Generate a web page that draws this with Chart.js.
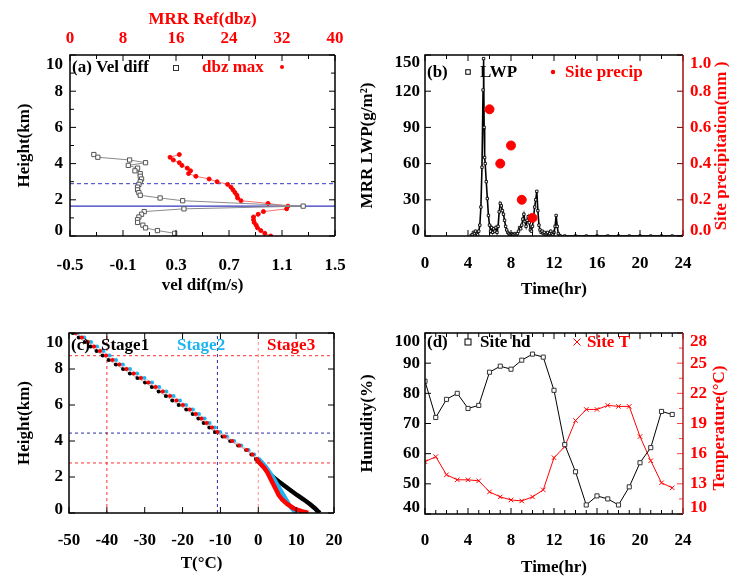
<!DOCTYPE html>
<html lang="en">
<head>
<meta charset="UTF-8">
<title>MRR panels</title>
<script src="https://cdn.jsdelivr.net/npm/chart.js"></script>
<style>
  html, body { margin: 0; padding: 0; background: #fff; overflow: hidden; }
  #wrap { position: relative; width: 729px; height: 578px; overflow: hidden; background: #fff; }
  canvas { position: absolute; }
</style>
</head>
<body>
<div id="wrap">
  <canvas id="panelA" width="370" height="300" style="left:0px;top:0px"></canvas>
  <canvas id="panelB" width="395" height="300" style="left:340px;top:0px"></canvas>
  <canvas id="panelC" width="370" height="278" style="left:0px;top:300px"></canvas>
  <canvas id="panelD" width="395" height="278" style="left:340px;top:300px"></canvas>
</div>
<script>
// ---- (a) MRR profiles ----
const velHeight = [4.5, 4.35, 4.2, 4.05, 3.9, 3.75, 3.6, 3.45, 3.3, 3.15, 3.0, 2.85, 2.7, 2.55, 2.4,
                   2.25, 2.1, 1.95, 1.65, 1.5, 1.35, 1.2, 1.05, 0.9, 0.75, 0.6, 0.45, 0.3, 0.15];
const velDiff = [-0.32, -0.29, -0.05, 0.07, -0.06, 0.01, -0.01, 0.03, 0.03, 0.04, 0.03, 0.02, 0.01, 0.01, 0.02,
                 0.03, 0.18, 0.35, 1.26, 0.36, 0.06, 0.04, 0.02, 0.01, 0.01, 0.05, 0.07, 0.16, 0.29];
const dbzHeight = [4.5, 4.35, 4.2, 4.05, 3.9, 3.75, 3.6, 3.45, 3.3, 3.15, 3.0, 2.85, 2.7, 2.55, 2.4, 2.25,
                   2.1, 1.95, 1.8, 1.65, 1.5, 1.35, 1.2, 1.05, 0.9, 0.75, 0.6, 0.45, 0.3, 0.15, 0.0];
const dbzMax = [16.5, 15.1, 15.6, 16.5, 16.9, 17.7, 18.2, 17.9, 19.0, 21.0, 22.2, 23.8, 24.3, 24.6, 24.9, 25.2,
                25.3, 25.8, 29.9, 32.9, 32.7, 29.2, 28.4, 27.7, 27.7, 27.8, 28.1, 28.3, 28.8, 29.4, 30.3];
const velRange = [-0.5, 1.5];
const dbzRange = [0, 40];
const meltTop = 2.89;     // dashed blue
const brightBand = 1.65;  // solid blue

// ---- (b) LWP and site precipitation ----
const lwpTime = [4.3, 4.4, 4.5, 4.6, 4.7, 4.8, 4.9, 5.0, 5.1, 5.2,
                 5.3, 5.4, 5.45, 5.5, 5.55, 5.6, 5.7, 5.8, 5.9, 6.0,
                 6.1, 6.2, 6.3, 6.4, 6.5, 6.6, 6.7, 6.8, 6.9, 7.0,
                 7.1, 7.2, 7.3, 7.4, 7.5, 7.6, 7.7, 7.8, 7.9, 8.0,
                 8.1, 8.2, 8.3, 8.4, 8.5, 8.6, 8.7, 8.8, 8.9, 9.0,
                 9.1, 9.2, 9.3, 9.4, 9.5, 9.6, 9.7, 9.8, 9.9, 10.0,
                 10.1, 10.2, 10.3, 10.4, 10.5, 10.6, 10.7, 10.8, 10.9, 11.0,
                 11.1, 11.2, 11.3, 11.4, 11.5, 11.6, 11.7, 11.8, 11.9, 12.0,
                 12.1, 12.2, 12.3, 12.4, 12.5, 12.6, 13, 14, 15, 16,
                 17, 18, 19, 20, 21, 22, 23, 24];
const lwpValue = [0.5, 1, 3, 2, 4, 2, 1, 4, 9, 24,
                  57, 121, 147, 90, 65, 60, 45, 31, 17, 9,
                  4, 7, 3, 6, 4, 7, 3, 8, 20, 27,
                  25, 21, 18, 13, 8, 5, 3, 2, 1, 1,
                  2, 1, 1, 2, 1, 2, 4, 7, 6, 9,
                  14, 18, 12, 8, 13, 16, 11, 5, 4, 8,
                  15, 24, 30, 37, 21, 9, 5, 3, 4, 2,
                  3, 1, 2, 3, 1, 2, 4, 2, 1, 3,
                  8, 17, 8, 2, 0.5, 0, 0, 0, 0, 0,
                  0, 0, 0, 0, 0, 0, 0, 0];
const precipTime = [6, 7, 8, 9, 10];
const precipValue = [0.7, 0.4, 0.5, 0.2, 0.1];

// ---- (c) temperature profiles ----
const profHeight = [10.0, 9.75, 9.5, 9.25, 9.0, 8.75, 8.5, 8.25, 8.0, 7.75, 7.5, 7.25, 7.0, 6.75, 6.5,
                    6.25, 6.0, 5.75, 5.5, 5.25, 5.0, 4.75, 4.5, 4.25, 4.0, 3.75, 3.5, 3.25, 3.0,
                    2.75, 2.5, 2.25, 2.0, 1.75, 1.5, 1.25, 1.0, 0.75, 0.5, 0.25, 0.1, 0.0];
const stage1T = [-49.0, -47.4, -45.8, -44.3, -42.7, -41.1, -39.5, -37.6, -35.7, -33.9, -31.9, -29.9, -28.1, -26.3, -24.4,
                 -22.7, -21.0, -19.0, -17.3, -15.8, -14.4, -12.9, -11.4, -9.4, -7.4, -5.3, -3.2, -1.8, -0.6,
                 0.6, 1.7, 2.7, 3.9, 5.4, 7.0, 8.6, 10.2, 12.0, 13.6, 15.0, 15.7, 16.3];
const stage2T = [-47.8, -46.0, -44.2, -42.6, -40.9, -39.3, -37.6, -35.8, -33.9, -32.0, -30.1, -28.1, -26.2, -24.3, -22.4,
                 -20.7, -19.1, -17.3, -15.7, -14.2, -12.9, -11.5, -10.1, -8.3, -6.4, -4.5, -2.6, -1.1, 0.1,
                 1.2, 2.2, 3.0, 3.8, 4.5, 5.2, 5.9, 6.6, 7.3, 8.0, 8.9, 9.6, 10.2];
const stage3T = [-48.3, -46.6, -45.0, -43.4, -41.8, -40.2, -38.5, -36.7, -34.8, -32.9, -31.0, -29.0, -27.1, -25.2, -23.3,
                 -21.6, -19.9, -18.1, -16.5, -15.0, -13.6, -12.2, -10.8, -8.9, -6.9, -5.0, -3.0, -1.5, -0.4,
                 0.5, 1.6, 2.4, 3.0, 3.6, 4.2, 4.8, 5.4, 6.3, 7.6, 9.4, 11.4, 13.2];
const tRange = [-50, 20];
const hRange = [0, 10];
const levelLines = [8.74, 4.44, 2.78];        // heights of horizontal dashed lines
const levelColors = ['#ff3030', '#2c2ca0', '#ff3030'];
const tempLines = [-40, -10.8, 0];            // temperatures of vertical dashed lines
const tempColors = ['#ff3030', '#2c2ca0', '#ff9090'];
const thickBelow = 3.0;

// ---- (d) site humidity and temperature ----
const hours = [0, 1, 2, 3, 4, 5, 6, 7, 8, 9, 10, 11, 12, 13, 14, 15, 16, 17, 18, 19, 20, 21, 22, 23];
const siteHd = [84, 72, 78, 80, 75, 76, 87, 89, 88, 91, 93, 92, 81, 63, 54, 43, 46, 45, 43, 49, 57, 62, 74, 73];
const siteT = [15.2, 15.7, 13.9, 13.4, 13.4, 13.3, 12.2, 11.7, 11.4, 11.3, 11.7, 12.4, 15.6, 16.7, 19.3, 20.4,
               20.4, 20.8, 20.7, 20.7, 17.7, 15.3, 13.1, 12.6];

const FONT = "'Liberation Serif', 'Times New Roman', serif";
const boldFont = { family: FONT, size: 17, weight: 'bold' };
const RED = '#ff0000';
const CYAN = '#1eb4f0';

function axis(o) {
    return {
        type: 'linear',
        axis: o.axis,
        position: o.position,
        min: o.min,
        max: o.max,
        afterFit: o.width != null ? (s => { s.width = o.width; }) : (s => { s.height = o.height; }),
        grid: { display: false, drawTicks: false },
        border: { display: false },
        ticks: {
            stepSize: o.step, font: boldFont, color: o.color || '#000', padding: o.pad,
            autoSkip: false, maxRotation: 0, callback: o.fmt || (v => v)
        },
        title: { display: !!o.title, text: o.title, color: o.color || '#000', font: boldFont, padding: o.titlePad || 0 }
    };
}

function tickValues(sc, sub) {
    const t = sc.ticks.map(k => k.value);
    const out = t.map(v => [v, true]);
    if (sub > 1) {
        for (let i = 0; i < t.length - 1; i++) {
            for (let j = 1; j < sub; j++) out.push([t[i] + (t[i + 1] - t[i]) * j / sub, false]);
        }
    }
    return out;
}

// inward tick marks and the box round the plot, gnuplot style
const framePlugin = {
    id: 'frame',
    beforeDraw(chart, args, opts) {
        // the end labels of the vertical axes sit a little inside the box
        Object.entries(opts.endShift || {}).forEach(([id, sh]) => {
            const items = chart.scales[id].getLabelItems(chart.chartArea);
            if (!items.length || items._shifted) return;
            items[0].options.translation[1] += sh[0];
            items[items.length - 1].options.translation[1] += sh[1];
            items._shifted = true;
        });
    },
    afterDatasetsDraw(chart, args, opts) {
        const { ctx, chartArea: a } = chart;
        ctx.save();
        ctx.lineWidth = 1;
        (opts.marks || []).forEach(m => {
            const sc = chart.scales[m.scale];
            ctx.strokeStyle = m.color || '#000';
            tickValues(sc, m.sub || 1).forEach(([v, major]) => {
                const p = sc.getPixelForValue(v);
                const len = major ? 6 : 4;
                ctx.beginPath();
                if (m.side === 'bottom') { ctx.moveTo(p, a.bottom); ctx.lineTo(p, a.bottom - len); }
                if (m.side === 'top') { ctx.moveTo(p, a.top); ctx.lineTo(p, a.top + len); }
                if (m.side === 'left') { ctx.moveTo(a.left, p); ctx.lineTo(a.left + len, p); }
                if (m.side === 'right') { ctx.moveTo(a.right, p); ctx.lineTo(a.right - len, p); }
                ctx.stroke();
            });
        });
        ctx.lineWidth = 1.5;
        ctx.strokeStyle = '#000';
        ctx.beginPath();
        ctx.moveTo(a.right, a.top); ctx.lineTo(a.left, a.top); ctx.lineTo(a.left, a.bottom); ctx.lineTo(a.right, a.bottom);
        ctx.stroke();
        ctx.strokeStyle = opts.rightColor || '#000';
        ctx.beginPath();
        ctx.moveTo(a.right, a.top); ctx.lineTo(a.right, a.bottom);
        ctx.stroke();
        ctx.restore();
    }
};

// key texts, key symbols and right-hand axis titles (given in page coordinates)
const keyPlugin = {
    id: 'key',
    afterDraw(chart, args, opts) {
        const ctx = chart.ctx;
        const [ox, oy] = opts.offset;
        ctx.save();
        ctx.font = 'bold 17px ' + FONT;
        ctx.textBaseline = 'middle';
        (opts.items || []).forEach(it => {
            const x = it.x - ox, y = it.y - oy;
            ctx.fillStyle = it.color || '#000';
            ctx.strokeStyle = it.color || '#000';
            ctx.lineWidth = 1;
            if (it.type === 'text') {
                ctx.textAlign = 'left';
                ctx.fillText(it.text, x, y);
            } else if (it.type === 'vtext') {
                ctx.save();
                ctx.translate(x, y);
                ctx.rotate(-Math.PI / 2);
                ctx.textAlign = 'center';
                ctx.fillText(it.text, 0, 0);
                ctx.restore();
            } else if (it.type === 'rect') {
                ctx.strokeRect(x - it.s / 2, y - it.s / 2, it.s, it.s);
            } else if (it.type === 'dot') {
                ctx.beginPath(); ctx.arc(x, y, it.r, 0, Math.PI * 2); ctx.fill();
            } else if (it.type === 'cross') {
                ctx.beginPath();
                ctx.moveTo(x - it.s, y - it.s); ctx.lineTo(x + it.s, y + it.s);
                ctx.moveTo(x - it.s, y + it.s); ctx.lineTo(x + it.s, y - it.s);
                ctx.stroke();
            }
        });
        ctx.restore();
    }
};

const common = {
    responsive: false,
    animation: false,
    events: [],
    plugins: { legend: { display: false }, tooltip: { enabled: false } }
};

function pts(xs, ys) { return xs.map((x, i) => ({ x: x, y: ys[i] })); }

// ---------- panel (a) ----------
new Chart(document.getElementById('panelA'), {
    type: 'scatter',
    data: {
        datasets: [
            {
                data: pts(velDiff, velHeight), xAxisID: 'x', yAxisID: 'y', showLine: true,
                borderColor: '#8a8a8a', borderWidth: 1, pointStyle: 'rect', pointRadius: 3,
                pointBorderColor: '#555', pointBackgroundColor: '#fff', pointBorderWidth: 1
            },
            {
                data: pts(dbzMax, dbzHeight), xAxisID: 'x2', yAxisID: 'y', showLine: true,
                borderColor: '#ff7070', borderWidth: 1, pointRadius: 2,
                pointBackgroundColor: RED, pointBorderColor: RED
            },
            {
                data: pts(velRange, [meltTop, meltTop]), xAxisID: 'x', yAxisID: 'y', showLine: true,
                borderColor: '#3535c0', borderWidth: 1, borderDash: [4, 3], pointRadius: 0
            },
            {
                data: pts(velRange, [brightBand, brightBand]), xAxisID: 'x', yAxisID: 'y', showLine: true,
                borderColor: '#3535c0', borderWidth: 1.2, pointRadius: 0
            }
        ]
    },
    options: Object.assign({}, common, {
        layout: { padding: { left: 0, right: 35, top: 0, bottom: 0 } },
        scales: {
            x: axis({ axis: 'x', position: 'bottom', min: velRange[0], max: velRange[1], step: 0.4, height: 64, pad: 19,
                      fmt: v => v.toFixed(1), title: 'vel dif(m/s)', titlePad: 3.8 }),
            x2: axis({ axis: 'x', position: 'top', min: dbzRange[0], max: dbzRange[1], step: 8, height: 55, pad: 6,
                       color: RED, title: 'MRR Ref(dbz)', titlePad: 9.5 }),
            y: axis({ axis: 'y', position: 'left', min: hRange[0], max: hRange[1], step: 2, width: 70, pad: 7,
                      title: 'Height(km)', titlePad: 14.8 })
        },
        plugins: Object.assign({}, common.plugins, {
            frame: { endShift: { y: [-5, 10] }, marks: [
                { scale: 'x', side: 'bottom', sub: 2 }, { scale: 'x', side: 'top', sub: 2 },
                { scale: 'y', side: 'left', sub: 2 }, { scale: 'y', side: 'right', sub: 2 }
            ] },
            key: { offset: [0, 0], items: [
                { type: 'text', text: '(a) Vel diff', x: 72, y: 68 },
                { type: 'rect', x: 176, y: 68, s: 5, color: '#333' },
                { type: 'text', text: 'dbz max', x: 202, y: 68, color: RED },
                { type: 'dot', x: 282, y: 67, r: 2, color: RED }
            ] }
        })
    }),
    plugins: [framePlugin, keyPlugin]
});

// ---------- panel (b) ----------
new Chart(document.getElementById('panelB'), {
    type: 'scatter',
    data: {
        datasets: [
            {
                data: pts(precipTime, precipValue), xAxisID: 'x', yAxisID: 'y2', showLine: false,
                pointRadius: 4.5, pointBackgroundColor: RED, pointBorderColor: RED
            },
            {
                data: pts(lwpTime, lwpValue), xAxisID: 'x', yAxisID: 'y', showLine: true,
                borderColor: '#000', borderWidth: 1.6, pointStyle: 'rect', pointRadius: 1.7,
                pointBorderColor: '#000', pointBackgroundColor: '#fff', pointBorderWidth: 0.9
            }
        ]
    },
    options: Object.assign({}, common, {
        layout: { padding: { left: 0, right: 0, top: 55, bottom: 0 } },
        scales: {
            x: axis({ axis: 'x', position: 'bottom', min: 0, max: 24, step: 4, height: 64, pad: 17,
                      title: 'Time(hr)', titlePad: 0 }),
            y: axis({ axis: 'y', position: 'left', min: 0, max: 150, step: 30, width: 85, pad: 5,
                      title: 'MRR LWP(g/m²)', titlePad: 17.8 }),
            y2: axis({ axis: 'y', position: 'right', min: 0, max: 1, step: 0.2, width: 52, pad: 7,
                       color: RED, fmt: v => v.toFixed(1) })
        },
        plugins: Object.assign({}, common.plugins, {
            frame: { rightColor: '#a01010', endShift: { y: [-5, 8], y2: [-5, 9] }, marks: [
                { scale: 'x', side: 'bottom', sub: 2 }, { scale: 'x', side: 'top', sub: 2 },
                { scale: 'y', side: 'left' }, { scale: 'y2', side: 'right', color: '#600' }
            ] },
            key: { offset: [340, 0], items: [
                { type: 'text', text: '(b)', x: 427, y: 73 },
                { type: 'rect', x: 468, y: 72, s: 4.5 },
                { type: 'text', text: 'LWP', x: 480, y: 73 },
                { type: 'dot', x: 553, y: 72, r: 2.2, color: RED },
                { type: 'text', text: 'Site precip', x: 565, y: 73, color: RED },
                { type: 'vtext', text: 'Site precipitation(mm )', x: 722, y: 146, color: RED }
            ] }
        })
    }),
    plugins: [framePlugin, keyPlugin]
});

// ---------- panel (c) ----------
function profile(temps, color, lineColor) {
    return {
        data: pts(temps, profHeight), xAxisID: 'x', yAxisID: 'y', showLine: true,
        borderColor: color, borderWidth: 1,
        segment: {
            borderWidth: s => (s.p0.parsed.y <= thickBelow && s.p1.parsed.y <= thickBelow) ? 4.5 : 0.8,
            borderColor: s => (s.p0.parsed.y <= thickBelow && s.p1.parsed.y <= thickBelow) ? color : lineColor
        },
        pointRadius: c => (c.raw && c.raw.y < thickBelow) ? 0 : 2.1,
        pointBackgroundColor: color, pointBorderColor: color, pointBorderWidth: 0
    };
}
const levelSets = levelLines.map((h, i) => ({
    data: pts(tRange, [h, h]), xAxisID: 'x', yAxisID: 'y', showLine: true,
    borderColor: levelColors[i], borderWidth: 1, borderDash: [3, 3], pointRadius: 0
}));
const tempSets = tempLines.map((t, i) => ({
    data: pts([t, t], hRange), xAxisID: 'x', yAxisID: 'y', showLine: true,
    borderColor: tempColors[i], borderWidth: 1, borderDash: [3, 3], pointRadius: 0
}));
new Chart(document.getElementById('panelC'), {
    type: 'scatter',
    data: {
        datasets: [
            profile(stage3T, RED, '#ff9a9a'),
            profile(stage2T, CYAN, '#9ad8f5'),
            profile(stage1T, '#000', '#9a9a9a')
        ].concat(levelSets, tempSets)
    },
    options: Object.assign({}, common, {
        layout: { padding: { left: 0, right: 36, top: 33, bottom: 0 } },
        scales: {
            x: axis({ axis: 'x', position: 'bottom', min: tRange[0], max: tRange[1], step: 10, height: 65, pad: 17.8,
                      title: 'T(°C)', titlePad: 3.8 }),
            y: axis({ axis: 'y', position: 'left', min: hRange[0], max: hRange[1], step: 2, width: 69, pad: 6,
                      title: 'Height(km)', titlePad: 14.8 })
        },
        plugins: Object.assign({}, common.plugins, {
            frame: { endShift: { y: [-3, 10] }, marks: [
                { scale: 'x', side: 'bottom' }, { scale: 'x', side: 'top' },
                { scale: 'y', side: 'left' }, { scale: 'y', side: 'right' }
            ] },
            key: { offset: [0, 300], items: [
                { type: 'text', text: '(c)', x: 71, y: 346 },
                { type: 'text', text: 'Stage1', x: 101, y: 346 },
                { type: 'text', text: 'Stage2', x: 177, y: 346, color: CYAN },
                { type: 'text', text: 'Stage3', x: 267, y: 346, color: RED }
            ] }
        })
    }),
    plugins: [framePlugin, keyPlugin]
});

// ---------- panel (d) ----------
new Chart(document.getElementById('panelD'), {
    type: 'scatter',
    data: {
        datasets: [
            {
                data: pts(hours, siteHd), xAxisID: 'x', yAxisID: 'y', showLine: true,
                borderColor: '#000', borderWidth: 1, pointStyle: 'rect', pointRadius: 2.9,
                pointBorderColor: '#333', pointBackgroundColor: '#fff', pointBorderWidth: 1
            },
            {
                data: pts(hours, siteT), xAxisID: 'x', yAxisID: 'y2', showLine: true,
                borderColor: RED, borderWidth: 1, pointStyle: 'crossRot', pointRadius: 3.2,
                pointBorderColor: RED, pointBorderWidth: 1
            }
        ]
    },
    options: Object.assign({}, common, {
        layout: { padding: { left: 0, right: 0, top: 33, bottom: 0 } },
        scales: {
            x: axis({ axis: 'x', position: 'bottom', min: 0, max: 24, step: 4, height: 64, pad: 16.8,
                      title: 'Time(hr)', titlePad: 0 }),
            y: axis({ axis: 'y', position: 'left', min: 40, max: 100, step: 10, width: 85, pad: 5,
                      title: 'Humidity(%)', titlePad: 17.8 }),
            y2: axis({ axis: 'y', position: 'right', min: 10, max: 28, step: 3, width: 52, pad: 7, color: RED })
        },
        plugins: Object.assign({}, common.plugins, {
            frame: { rightColor: '#b02020', endShift: { y: [-6, 9], y2: [-6, 9] }, marks: [
                { scale: 'x', side: 'bottom', sub: 4 }, { scale: 'x', side: 'top', sub: 4 },
                { scale: 'y', side: 'left' }, { scale: 'y2', side: 'right', sub: 2, color: '#ff4040' }
            ] },
            key: { offset: [340, 300], items: [
                { type: 'text', text: '(d)', x: 427, y: 343 },
                { type: 'rect', x: 468, y: 342, s: 6 },
                { type: 'text', text: 'Site hd', x: 480, y: 343 },
                { type: 'cross', x: 577, y: 342, s: 3.5, color: RED },
                { type: 'text', text: 'Site T', x: 587, y: 343, color: RED },
                { type: 'vtext', text: 'Temperature(°C)', x: 720, y: 428, color: RED }
            ] }
        })
    }),
    plugins: [framePlugin, keyPlugin]
});
</script>
</body>
</html>
